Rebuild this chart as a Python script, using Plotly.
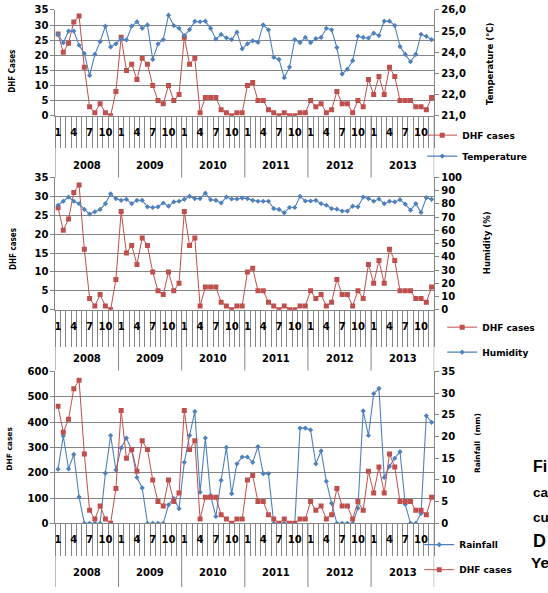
import plotly.graph_objects as go

# ---------------- data ----------------
years = ["2008", "2009", "2010", "2011", "2012", "2013"]
month_tick_labels = ["1", "4", "7", "10"]

dhf_cases = [27, 21, 24, 31, 33, 16, 3, 1, 4, 1, 0, 8,
             26, 15, 17, 12, 19, 17, 10, 5, 4, 10, 5, 7,
             26, 17, 19, 1, 6, 6, 6, 2, 1, 0, 1, 1,
             10, 11, 5, 5, 2, 1, 0, 1, 0, 0, 1, 1,
             5, 3, 4, 1, 2, 8, 4, 4, 1, 5, 3, 12,
             7, 13, 7, 16, 13, 5, 5, 5, 3, 3, 2, 6]

temperature = [24.84, 24.45, 25.0, 25.0, 24.33, 23.94, 22.9, 23.9, 24.5, 25.23, 24.25, 24.4,
               24.64, 24.58, 25.23, 25.44, 25.13, 25.29, 23.66, 24.39, 24.6, 25.75, 25.26, 25.13,
               24.79, 25.07, 25.46, 25.44, 25.47, 25.13, 24.62, 24.84, 24.68, 24.6, 24.95, 24.16,
               24.4, 24.54, 24.47, 25.29, 25.06, 23.76, 23.66, 22.8, 23.3, 24.6, 24.45, 24.7,
               24.45, 24.64, 24.7, 25.13, 25.06, 24.22, 22.97, 23.2, 23.6, 24.76, 24.7, 24.67,
               24.9, 24.79, 25.47, 25.47, 25.26, 24.27, 23.9, 23.55, 23.9, 24.85, 24.75, 24.6]

humidity = [79, 82, 85.2, 82, 80.2, 75.8, 72.3, 74, 75.8, 80.2, 87.7, 84,
            82.7, 83.5, 80.2, 82.7, 82.7, 77.8, 77.3, 77.8, 80.7, 78.3, 81.5, 82,
            83.5, 85.7, 84, 84, 88.1, 83.2, 82.7, 80.7, 85.2, 83.7, 83.7, 84.4,
            84, 82.7, 82, 82, 82, 76.5, 75.8, 73.3, 77.3, 77.3, 85.7, 82.2,
            82.2, 82.7, 80.2, 79, 76.5, 76, 74.6, 74.6, 78.3, 77.8, 85.2, 84,
            82, 83.7, 80.2, 82, 81.5, 83.2, 79.8, 75.3, 80.2, 73.6, 84.7, 83.5]

rainfall = [214, 345, 215, 272, 104, 0, 0, 0, 0, 198, 347, 211,
            298, 337, 289, 181, 140, 0, 0, 0, 0, 73, 98, 58,
            241, 347, 442, 123, 337, 110, 27, 170, 300, 117, 235, 262,
            262, 241, 303, 196, 196, 0, 0, 0, 0, 0, 376, 376,
            369, 235, 286, 166, 79, 0, 0, 0, 0, 60, 444, 347,
            512, 533, 181, 225, 257, 283, 75, 0, 0, 39, 425, 399]

temp_ticks = [21, 22, 23, 24, 25, 26]
temp_tick_labels = ["21,0", "22,0", "23,0", "24,0", "25,0", "26,0"]

# ---------------- geometry ----------------
W, H = 548, 593
RED = "#C0504D"
BLUE = "#4F81BD"
GRID = "#868686"
FONT = "DejaVu Sans"
NARROW = "Liberation Sans Narrow, DejaVu Sans Condensed, Liberation Sans"


def py(v):
    return 1 - v / H


def px(v):
    return v / W


x_idx = list(range(len(dhf_cases)))
n_months = len(dhf_cases)
label_vals = [i for i in x_idx if str(i % 12 + 1) in month_tick_labels]
label_text = [str(i % 12 + 1) for i in label_vals]

X0, X1 = 54.5, 434
panels = [
    dict(top=4, bottom=112, ticklen=31, year_y=163, div_bottom=175),
    dict(top=175, bottom=310, ticklen=36, year_y=360, div_bottom=372),
    dict(top=373, bottom=528, ticklen=32, year_y=578, div_bottom=593),
]

fig = go.Figure()

red_line = dict(color=RED, width=1)
red_marker = dict(symbol="square", size=5, color=RED)
blue_line = dict(color=BLUE, width=1.1)
blue_marker = dict(symbol="diamond", size=4, color=BLUE)

# panel 1
fig.add_trace(go.Scatter(x=x_idx, y=dhf_cases, name="DHF cases", mode="lines+markers",
                         line=red_line, marker=red_marker, xaxis="x", yaxis="y",
                         legend="legend", legendgroup="a"))
fig.add_trace(go.Scatter(x=x_idx, y=temperature, name="Temperature", mode="lines+markers",
                         line=blue_line, marker=blue_marker, xaxis="x", yaxis="y2",
                         legend="legend", legendgroup="b"))
# panel 2
fig.add_trace(go.Scatter(x=x_idx, y=dhf_cases, name="DHF cases", mode="lines+markers",
                         line=red_line, marker=red_marker, xaxis="x2", yaxis="y3",
                         legend="legend2", legendgroup="c"))
fig.add_trace(go.Scatter(x=x_idx, y=humidity, name="Humidity", mode="lines+markers",
                         line=blue_line, marker=blue_marker, xaxis="x2", yaxis="y4",
                         legend="legend2", legendgroup="d"))
# panel 3
fig.add_trace(go.Scatter(x=x_idx, y=rainfall, name="Rainfall", mode="lines+markers",
                         line=blue_line, marker=blue_marker, xaxis="x3", yaxis="y5",
                         legend="legend3", legendgroup="e"))
fig.add_trace(go.Scatter(x=x_idx, y=dhf_cases, name="DHF cases", mode="lines+markers",
                         line=red_line, marker=red_marker, xaxis="x3", yaxis="y6",
                         legend="legend3", legendgroup="f"))

tickfont = dict(family=FONT, size=10, color="black", weight="bold")

layout = dict(
    width=W, height=H, margin=dict(l=0, r=0, t=0, b=0),
    paper_bgcolor="white", plot_bgcolor="white",
    showlegend=True,
)

yaxes_cfg = [
    (dict(range=[0, 35], dtick=5), dict(range=[21, 26], tickvals=temp_ticks, ticktext=temp_tick_labels)),
    (dict(range=[0, 35], dtick=5), dict(range=[0, 100], dtick=10)),
    (dict(range=[0, 600], dtick=100), dict(range=[0, 35], dtick=5)),
]

shapes = []
annotations = []
for k, p in enumerate(panels):
    xname = "xaxis" if k == 0 else f"xaxis{k + 1}"
    xref = "x" if k == 0 else f"x{k + 1}"
    left_name = "yaxis" if k == 0 else f"yaxis{2 * k + 1}"
    left_ref = "y" if k == 0 else f"y{2 * k + 1}"
    right_name = f"yaxis{2 * k + 2}"
    dom_y = [py(p["bottom"]), py(p["top"])]
    layout[xname] = dict(
        domain=[px(X0), px(X1)], range=[-0.5, n_months - 0.5], anchor=left_ref,
        showline=True, linecolor=GRID, linewidth=1, showgrid=False, zeroline=False,
        tickmode="array", tickvals=label_vals, ticktext=label_text, ticks="",
        tickfont=tickfont, ticklabelstandoff=7,
        minor=dict(tickmode="linear", tick0=0.5, dtick=1, ticks="outside",
                   ticklen=p["ticklen"], tickcolor=GRID, tickwidth=1, showgrid=False),
    )
    lcfg, rcfg = yaxes_cfg[k]
    layout[left_name] = dict(
        domain=dom_y, anchor=xref, side="left", showline=True, linecolor=GRID,
        showgrid=True, gridcolor=GRID, gridwidth=1, zeroline=False,
        ticks="outside", ticklen=4, tickcolor=GRID, tickfont=tickfont, **lcfg)
    layout[right_name] = dict(
        overlaying=left_ref, anchor=xref, side="right", showline=True, linecolor=GRID,
        showgrid=False, zeroline=False, ticks="outside", ticklen=4, tickcolor=GRID,
        tickfont=tickfont, **rcfg)
    # year dividers and labels
    for j in range(len(years) + 1):
        shapes.append(dict(type="line", xref=xref, yref="paper",
                           x0=12 * j - 0.5, x1=12 * j - 0.5,
                           y0=py(p["bottom"]), y1=py(p["div_bottom"]),
                           line=dict(color=GRID, width=1)))
    for j, yr in enumerate(years):
        annotations.append(dict(text=yr, xref=xref, yref="paper", x=12 * j + 5.5,
                                y=py(p["year_y"]), showarrow=False,
                                font=dict(family=FONT, size=10, color="black", weight="bold"),
                                xanchor="center", yanchor="middle"))

# axis titles
titles = [
    ("DHF Cases", 12, 66, 8, NARROW),
    ("Temperature (°C)", 490, 59, 8.5, FONT),
    ("DHF cases", 13, 248, 8, NARROW),
    ("Humidity (%)", 487, 242, 8.5, FONT),
    ("DHF cases", 9, 452, 7.5, FONT),
    ("Rainfall  (mm)", 478, 446, 7.5, FONT),
]
for t, x, y, s, fam in titles:
    annotations.append(dict(text=t, xref="paper", yref="paper", x=px(x), y=py(y),
                            textangle=-90, showarrow=False, xanchor="center", yanchor="middle",
                            font=dict(family=fam, size=s, color="black", weight="bold")))

# caption letters at the right edge
for t, x, y, s in [("Fi", 531, 470, 16), ("ca", 531, 497, 13.5), ("cu", 531, 522, 13.5),
                   ("D", 531, 546, 18), ("Ye", 529, 568, 15.5)]:
    annotations.append(dict(text=t, xref="paper", yref="paper", x=px(x), y=py(y),
                            showarrow=False, xanchor="left", yanchor="middle",
                            font=dict(family="Liberation Sans", size=s, color="black", weight="bold")))

legfont = dict(family=FONT, size=9, color="black", weight="bold")
layout["legend"] = dict(x=px(422), y=py(117), xanchor="left", yanchor="top", font=legfont,
                        bgcolor="rgba(0,0,0,0)", itemwidth=30, tracegroupgap=2, traceorder="grouped")
layout["legend2"] = dict(x=px(442), y=py(313), xanchor="left", yanchor="top", font=legfont,
                         bgcolor="rgba(0,0,0,0)", itemwidth=30, tracegroupgap=6, traceorder="grouped")
layout["legend3"] = dict(x=px(419), y=py(535), xanchor="left", yanchor="top", font=legfont,
                         bgcolor="rgba(0,0,0,0)", itemwidth=30, tracegroupgap=6, traceorder="grouped")

layout["shapes"] = shapes
layout["annotations"] = annotations
fig.update_layout(**layout)

fig.write_html("out.html", config={"displayModeBar": False},
               post_script="document.body.style.margin='0';document.body.style.overflow='hidden';")
